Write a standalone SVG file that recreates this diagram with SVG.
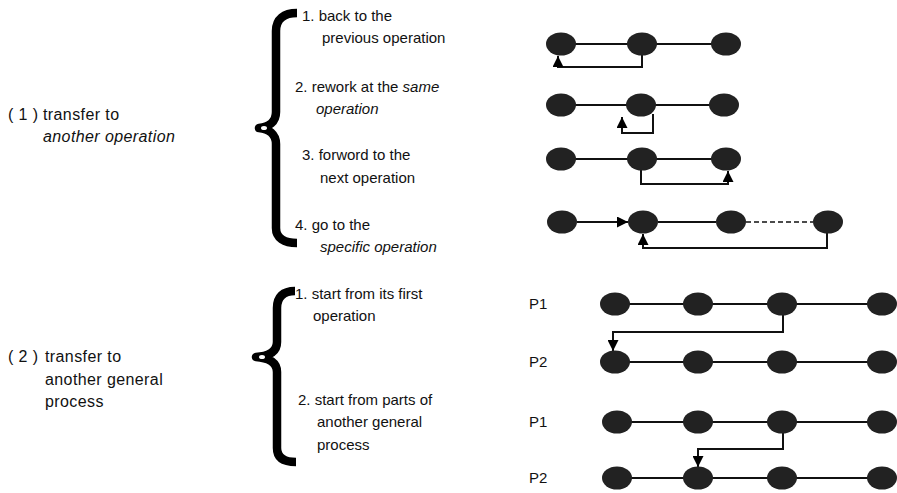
<svg xmlns="http://www.w3.org/2000/svg" width="897" height="493" viewBox="0 0 897 493">
  <style>
    text { font-family: "Liberation Sans", Arial, sans-serif; font-size: 15px; fill: #111; }
    .cat { font-size: 16px; letter-spacing: 0.4px; }
    .it { font-style: italic; }
    .node { fill: #222; }
    .ln { stroke: #111; stroke-width: 2; fill: none; }
    .dash { stroke: #111; stroke-width: 1.5; fill: none; stroke-dasharray: 5 3; }
    .brace { stroke: #000; stroke-width: 8.5; fill: none; stroke-linejoin: round; }
  </style>
  <defs>
    <marker id="arrow" viewBox="0 0 10 10" refX="10" refY="5" markerWidth="5.5" markerHeight="5.5" orient="auto" markerUnits="strokeWidth">
      <path d="M0,0 L10,5 L0,10 z" fill="#000"/>
    </marker>
  </defs>
  <rect width="897" height="493" fill="#fff"/>

  <!-- left category labels -->
  <g id="cat1">
    <text x="8" y="120" class="cat">( 1 )</text>
    <text x="43" y="120" class="cat">transfer to</text>
    <text x="43" y="142" class="cat it">another operation</text>
  </g>
  <g id="cat2">
    <text x="8" y="362" class="cat">( 2 )</text>
    <text x="45" y="362" class="cat">transfer to</text>
    <text x="45" y="385" class="cat">another general</text>
    <text x="45" y="407" class="cat">process</text>
  </g>

  <!-- braces -->
  <g id="brace1">
    <path class="brace" d="M297,13 C284,13 276,19 276,31 L276,112 C276,122 269,127 259,128 C269,129 276,134 276,144 L276,228 C276,238 284,243 297,243"/>
    <ellipse cx="264" cy="128" rx="3" ry="2" fill="#fff"/>
  </g>
  <g id="brace2">
    <path class="brace" d="M295,291 C283,291 277,297 277,308 L277,342 C277,351 270,356 256,357 C270,358 277,363 277,372 L277,448 C277,457 283,462 296,462"/>
    <ellipse cx="262" cy="357" rx="3" ry="2" fill="#fff"/>
  </g>

  <!-- case texts -->
  <g id="case1-1">
    <text x="302" y="21">1. back to the</text>
    <text x="322" y="43">previous operation</text>
  </g>
  <g id="case1-2">
    <text x="295" y="92">2. rework at the <tspan class="it">same</tspan></text>
    <text x="316" y="114" class="it">operation</text>
  </g>
  <g id="case1-3">
    <text x="302" y="160">3. forword to the</text>
    <text x="320" y="183">next operation</text>
  </g>
  <g id="case1-4">
    <text x="295" y="230">4. go to the</text>
    <text x="320" y="252" class="it">specific operation</text>
  </g>
  <g id="case2-1">
    <text x="295" y="299">1. start from its first</text>
    <text x="313" y="321">operation</text>
  </g>
  <g id="case2-2">
    <text x="298" y="405">2. start from parts of</text>
    <text x="317" y="427">another general</text>
    <text x="317" y="450">process</text>
  </g>

  <!-- process labels -->
  <g id="labels">
    <text x="529" y="309">P1</text>
    <text x="529" y="367">P2</text>
    <text x="529" y="427">P1</text>
    <text x="529" y="483">P2</text>
  </g>

  <!-- connectors -->
  <g id="connectors">
    <path class="ln" d="M561,44 H726"/>
    <path class="ln" d="M642,55 V67 H558 V56" marker-end="url(#arrow)"/>
    <path class="ln" d="M561,105 H724"/>
    <path class="ln" d="M653,114 V133 H622 V117" marker-end="url(#arrow)"/>
    <path class="ln" d="M561,159 H726"/>
    <path class="ln" d="M641,170 V184 H728 V171" marker-end="url(#arrow)"/>
    <path class="ln" d="M577,222 H628" marker-end="url(#arrow)"/>
    <path class="ln" d="M658,222 H716"/>
    <path class="dash" d="M746,222 H813"/>
    <path class="ln" d="M827,233 V248 H643 V234" marker-end="url(#arrow)"/>
    <path class="ln" d="M615,304 H882"/>
    <path class="ln" d="M615,362 H882"/>
    <path class="ln" d="M783,315 V332 H613 V351" marker-end="url(#arrow)"/>
    <path class="ln" d="M617,422 H882"/>
    <path class="ln" d="M617,478 H882"/>
    <path class="ln" d="M783,433 V449 H698 V467" marker-end="url(#arrow)"/>
  </g>

  <!-- operation nodes -->
  <g id="r1-n1"><ellipse class="node" cx="561" cy="44" rx="15" ry="11.5"/></g>
  <g id="r1-n2"><ellipse class="node" cx="642" cy="44" rx="15" ry="11.5"/></g>
  <g id="r1-n3"><ellipse class="node" cx="726" cy="44" rx="15" ry="11.5"/></g>
  <g id="r2-n1"><ellipse class="node" cx="561" cy="105" rx="15" ry="11.5"/></g>
  <g id="r2-n2"><ellipse class="node" cx="641" cy="105" rx="15" ry="11.5"/></g>
  <g id="r2-n3"><ellipse class="node" cx="724" cy="105" rx="15" ry="11.5"/></g>
  <g id="r3-n1"><ellipse class="node" cx="561" cy="159" rx="15" ry="11.5"/></g>
  <g id="r3-n2"><ellipse class="node" cx="642" cy="159" rx="15" ry="11.5"/></g>
  <g id="r3-n3"><ellipse class="node" cx="726" cy="159" rx="15" ry="11.5"/></g>
  <g id="r4-n1"><ellipse class="node" cx="562" cy="222" rx="15" ry="11.5"/></g>
  <g id="r4-n2"><ellipse class="node" cx="643" cy="222" rx="15" ry="11.5"/></g>
  <g id="r4-n3"><ellipse class="node" cx="731" cy="222" rx="15" ry="11.5"/></g>
  <g id="r4-n4"><ellipse class="node" cx="828" cy="222" rx="15" ry="11.5"/></g>
  <g id="a-p1-n1"><ellipse class="node" cx="615" cy="304" rx="15" ry="11.5"/></g>
  <g id="a-p1-n2"><ellipse class="node" cx="698" cy="304" rx="15" ry="11.5"/></g>
  <g id="a-p1-n3"><ellipse class="node" cx="782" cy="304" rx="15" ry="11.5"/></g>
  <g id="a-p1-n4"><ellipse class="node" cx="882" cy="304" rx="15" ry="11.5"/></g>
  <g id="a-p2-n1"><ellipse class="node" cx="615" cy="362" rx="15" ry="11.5"/></g>
  <g id="a-p2-n2"><ellipse class="node" cx="698" cy="362" rx="15" ry="11.5"/></g>
  <g id="a-p2-n3"><ellipse class="node" cx="782" cy="362" rx="15" ry="11.5"/></g>
  <g id="a-p2-n4"><ellipse class="node" cx="882" cy="362" rx="15" ry="11.5"/></g>
  <g id="b-p1-n1"><ellipse class="node" cx="617" cy="422" rx="15" ry="11.5"/></g>
  <g id="b-p1-n2"><ellipse class="node" cx="698" cy="422" rx="15" ry="11.5"/></g>
  <g id="b-p1-n3"><ellipse class="node" cx="782" cy="422" rx="15" ry="11.5"/></g>
  <g id="b-p1-n4"><ellipse class="node" cx="882" cy="422" rx="15" ry="11.5"/></g>
  <g id="b-p2-n1"><ellipse class="node" cx="617" cy="478" rx="15" ry="11.5"/></g>
  <g id="b-p2-n2"><ellipse class="node" cx="698" cy="478" rx="15" ry="11.5"/></g>
  <g id="b-p2-n3"><ellipse class="node" cx="782" cy="478" rx="15" ry="11.5"/></g>
  <g id="b-p2-n4"><ellipse class="node" cx="882" cy="478" rx="15" ry="11.5"/></g>
</svg>
